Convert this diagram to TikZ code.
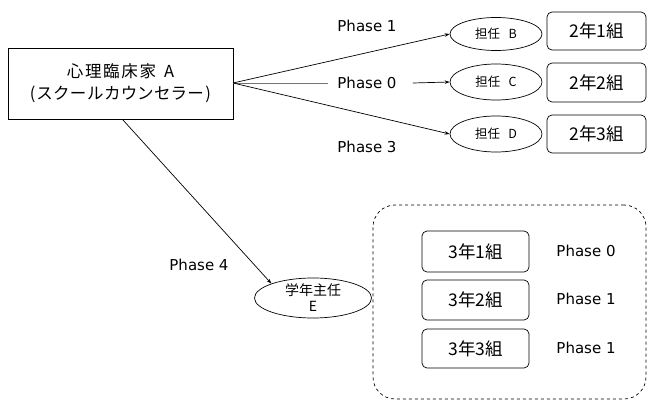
\documentclass[tikz,border=0pt]{standalone}
\usepackage{fontspec}
\setmainfont{Noto Sans CJK JP}
% label faces
\newfontfamily\phasefont{DejaVu Sans}
\newfontfamily\namefont{Noto Sans CJK JP}[WordSpace=3]
\newfontfamily\headfont{Noto Sans CJK JP}[LetterSpace=10,WordSpace=1.5,RawFeature=+palt]
\usetikzlibrary{shapes.geometric,arrows.meta}
\tikzset{
  person/.style={draw,ellipse,inner sep=0pt,minimum width=92pt,minimum height=36pt,font=\namefont\fontsize{12.5}{14}\selectfont},
  classbox/.style={draw,rounded corners=5pt,inner sep=0pt,font=\fontsize{17.5}{20}\selectfont},
  phase/.style={inner sep=0pt,font=\phasefont\fontsize{15}{17}\selectfont},
  link/.style={line width=0.7pt},
  tip/.style={-{Stealth[length=5pt,width=3.5pt]}}
}
\begin{document}
\begin{tikzpicture}[x=1pt,y=-1pt,line width=0.7pt]
\useasboundingbox (0,0) rectangle (648,401);

% counsellor
\node[draw,inner sep=0pt,minimum width=225pt,minimum height=71pt,align=center,
      font=\headfont\fontsize{16.5}{22}\selectfont] (A) at (120.5,83.5)
  {心理臨床家 A\\(スクールカウンセラー)};

% homeroom teachers of the second grade
\node[person,minimum height=33pt] (B) at (496,34) {担任 B};
\node[person] (C) at (496,82) {担任 C};
\node[person] (D) at (496,134) {担任 D};

\node[classbox,minimum width=99pt,minimum height=38pt] (c21) at (596.5,31) {2年1組};
\node[classbox,minimum width=99pt,minimum height=39pt] (c22) at (596.5,82.5) {2年2組};
\node[classbox,minimum width=99pt,minimum height=38pt] (c23) at (596.5,134) {2年3組};

% phase labels
\node[phase] (p1) at (367,26) {Phase 1};
\node[phase] (p0) at (367,83) {Phase 0};
\node[phase] (p3) at (367,147) {Phase 3};
\node[phase] (p4) at (199,265) {Phase 4};

% grade head
\node[person,minimum width=117pt,minimum height=40pt,align=center,
      font=\namefont\fontsize{14}{16}\selectfont] (E) at (313,298) {学年主任\\E};

% third-grade group
\node[draw,dashed,rounded corners=22pt,minimum width=273pt,minimum height=194pt,inner sep=0pt]
  (G) at (509.5,302) {};
\node[classbox,minimum width=107pt,minimum height=41pt] (c31) at (475.5,251.5) {3年1組};
\node[classbox,minimum width=107pt,minimum height=40pt] (c32) at (475.5,300) {3年2組};
\node[classbox,minimum width=107pt,minimum height=39pt] (c33) at (475.5,348.5) {3年3組};
\node[phase] (q1) at (586,251) {Phase 0};
\node[phase] (q2) at (586,299) {Phase 1};
\node[phase] (q3) at (586,348) {Phase 1};

% connectors
\coordinate (Aout) at (233,83);
\coordinate (Adown) at (123,120);
\draw[link,tip] (Aout) -- (B.west);
\draw[link,black!55] (Aout) -- ([xshift=-9pt]p0.west);
\draw[link,tip] ([xshift=16pt]p0.east) -- (C.west);
\draw[link,tip] (Aout) -- (D.west);
\draw[link,tip] (Adown) -- (E.north west);
\end{tikzpicture}
\end{document}
